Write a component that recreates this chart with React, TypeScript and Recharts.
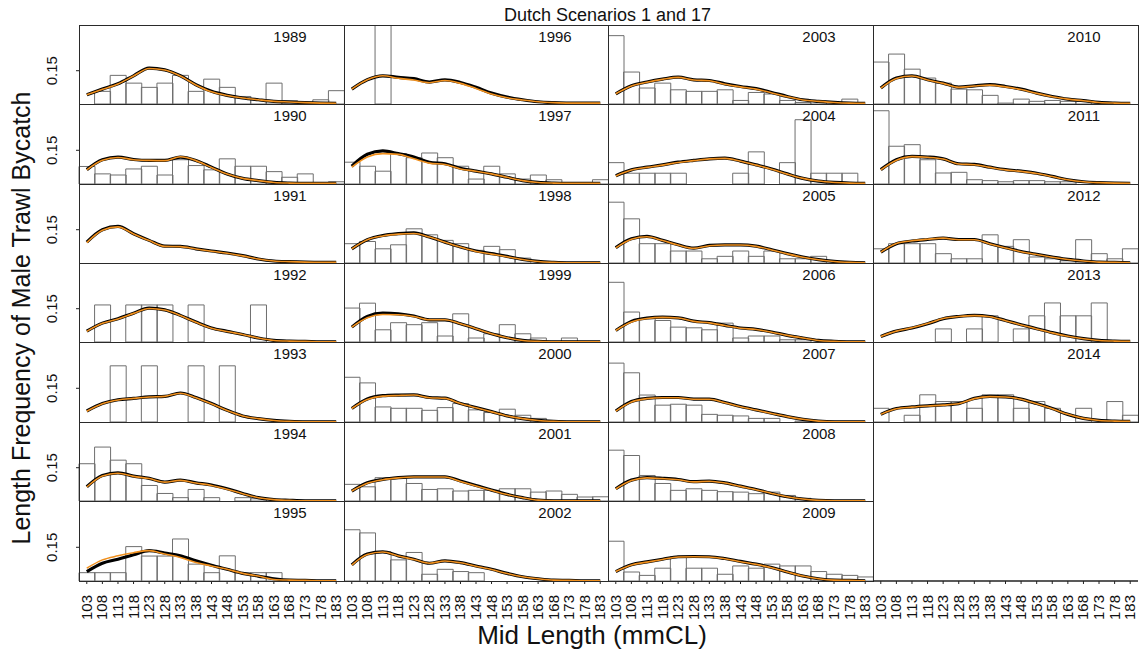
import { Bar, ComposedChart, Line, XAxis, YAxis } from "recharts"

const lengths = ["103", "108", "113", "118", "123", "128", "133", "138", "143", "148", "153", "158", "163", "168", "173", "178", "183"]

// observed proportions (bars) and the two scenario fits (black = scenario 1, orange = scenario 17)
const bars1989 = [0, 0.057, 0.129, 0.094, 0.075, 0.094, 0.129, 0.057, 0.112, 0.075, 0.034, 0.019, 0.094, 0.015, 0, 0.019, 0.06]
const black1989 = [0.042, 0.067, 0.091, 0.127, 0.162, 0.154, 0.127, 0.087, 0.057, 0.039, 0.027, 0.019, 0.012, 0.009, 0.006, 0.004, 0.003]
const orange1989 = [0.042, 0.066, 0.09, 0.126, 0.16, 0.153, 0.126, 0.086, 0.055, 0.038, 0.027, 0.019, 0.012, 0.009, 0.006, 0.004, 0.003]

const bars1990 = [0.078, 0.045, 0.04, 0.067, 0.079, 0.04, 0.108, 0.082, 0.063, 0.112, 0.079, 0.079, 0.055, 0.03, 0.045, 0, 0.01]
const black1990 = [0.064, 0.108, 0.12, 0.109, 0.105, 0.105, 0.12, 0.105, 0.075, 0.045, 0.025, 0.015, 0.007, 0.004, 0.003, 0.003, 0.003]
const orange1990 = [0.063, 0.106, 0.118, 0.108, 0.105, 0.104, 0.121, 0.104, 0.073, 0.044, 0.025, 0.015, 0.007, 0.004, 0.003, 0.003, 0.003]

const bars1991 = [0, 0, 0, 0, 0, 0, 0, 0, 0, 0, 0, 0, 0, 0, 0, 0, 0]
const black1991 = [0.094, 0.15, 0.165, 0.132, 0.102, 0.076, 0.075, 0.064, 0.054, 0.045, 0.033, 0.018, 0.009, 0.006, 0.004, 0.003, 0.003]
const orange1991 = [0.092, 0.148, 0.163, 0.131, 0.101, 0.075, 0.074, 0.063, 0.053, 0.044, 0.032, 0.018, 0.009, 0.006, 0.004, 0.003, 0.003]

const bars1992 = [0, 0.167, 0, 0.167, 0.167, 0.167, 0, 0.167, 0, 0, 0, 0.167, 0, 0, 0, 0, 0]
const black1992 = [0.049, 0.085, 0.105, 0.13, 0.153, 0.145, 0.12, 0.09, 0.063, 0.048, 0.034, 0.018, 0.007, 0.004, 0.003, 0.001, 0.001]
const orange1992 = [0.048, 0.084, 0.104, 0.129, 0.151, 0.144, 0.119, 0.089, 0.062, 0.047, 0.034, 0.018, 0.007, 0.004, 0.003, 0.001, 0.001]

const bars1993 = [0, 0, 0.25, 0, 0.25, 0, 0, 0.25, 0, 0.25, 0, 0, 0, 0, 0, 0, 0]
const black1993 = [0.049, 0.082, 0.099, 0.105, 0.112, 0.114, 0.129, 0.109, 0.082, 0.052, 0.027, 0.015, 0.007, 0.003, 0.001, 0.001, 0.001]
const orange1993 = [0.048, 0.081, 0.098, 0.105, 0.111, 0.114, 0.128, 0.108, 0.081, 0.051, 0.027, 0.015, 0.007, 0.003, 0.001, 0.001, 0.001]

const bars1994 = [0.168, 0.243, 0.184, 0.168, 0.07, 0.034, 0.015, 0.052, 0.015, 0, 0.015, 0.01, 0, 0, 0, 0, 0]
const black1994 = [0.064, 0.115, 0.127, 0.112, 0.102, 0.085, 0.094, 0.082, 0.072, 0.055, 0.034, 0.015, 0.006, 0.003, 0.001, 0.001, 0.001]
const orange1994 = [0.063, 0.113, 0.125, 0.111, 0.101, 0.085, 0.093, 0.081, 0.07, 0.053, 0.033, 0.015, 0.006, 0.003, 0.001, 0.001, 0.001]

const bars1995 = [0.037, 0.037, 0.037, 0.153, 0.111, 0.111, 0.187, 0.075, 0.037, 0.112, 0.037, 0.037, 0.037, 0, 0, 0, 0]
const black1995 = [0.042, 0.079, 0.097, 0.117, 0.135, 0.124, 0.112, 0.09, 0.07, 0.052, 0.034, 0.022, 0.01, 0.004, 0.003, 0.001, 0.001]
const orange1995 = [0.057, 0.094, 0.112, 0.126, 0.135, 0.12, 0.105, 0.082, 0.067, 0.052, 0.034, 0.022, 0.007, 0.004, 0.003, 0.001, 0.001]

const bars1996 = [0, 0, 1, 0, 0, 0, 0, 0, 0, 0, 0, 0, 0, 0, 0, 0, 0]
const black1996 = [0.067, 0.109, 0.127, 0.12, 0.114, 0.099, 0.109, 0.097, 0.075, 0.049, 0.031, 0.019, 0.01, 0.006, 0.004, 0.004, 0.004]
const orange1996 = [0.067, 0.109, 0.127, 0.116, 0.108, 0.096, 0.106, 0.093, 0.07, 0.045, 0.028, 0.018, 0.01, 0.006, 0.004, 0.004, 0.004]

const bars1997 = [0.097, 0.079, 0.057, 0.135, 0.117, 0.138, 0.117, 0.079, 0.022, 0.079, 0.045, 0.022, 0.04, 0.019, 0, 0, 0.019]
const black1997 = [0.079, 0.132, 0.147, 0.135, 0.12, 0.097, 0.09, 0.07, 0.057, 0.045, 0.03, 0.015, 0.007, 0.004, 0.003, 0.003, 0.003]
const orange1997 = [0.075, 0.12, 0.135, 0.132, 0.112, 0.093, 0.087, 0.067, 0.057, 0.045, 0.03, 0.015, 0.007, 0.004, 0.003, 0.003, 0.003]

const bars1998 = [0.087, 0.097, 0.064, 0.082, 0.154, 0.127, 0.102, 0.087, 0.057, 0.075, 0.06, 0.022, 0, 0, 0, 0, 0]
const black1998 = [0.064, 0.105, 0.124, 0.132, 0.136, 0.117, 0.094, 0.072, 0.054, 0.042, 0.03, 0.016, 0.007, 0.003, 0.001, 0.001, 0.001]
const orange1998 = [0.064, 0.105, 0.122, 0.13, 0.133, 0.117, 0.094, 0.072, 0.052, 0.04, 0.028, 0.016, 0.007, 0.003, 0.001, 0.001, 0.001]

const bars1999 = [0.153, 0.175, 0.055, 0.087, 0.078, 0.087, 0.027, 0.127, 0.018, 0.037, 0.078, 0.037, 0.018, 0, 0.018, 0, 0]
const black1999 = [0.067, 0.115, 0.13, 0.127, 0.117, 0.1, 0.1, 0.082, 0.06, 0.037, 0.019, 0.007, 0.003, 0.001, 0.001, 0.001, 0.001]
const orange1999 = [0.067, 0.109, 0.124, 0.123, 0.115, 0.1, 0.1, 0.082, 0.06, 0.037, 0.019, 0.007, 0.003, 0.001, 0.001, 0.001, 0.001]

const bars2000 = [0.199, 0.174, 0.067, 0.061, 0.061, 0.052, 0.064, 0.082, 0.054, 0.042, 0.057, 0.03, 0.016, 0, 0, 0, 0]
const black2000 = [0.06, 0.102, 0.117, 0.12, 0.121, 0.109, 0.106, 0.082, 0.064, 0.046, 0.027, 0.015, 0.007, 0.003, 0.001, 0.001, 0.001]
const orange2000 = [0.06, 0.1, 0.115, 0.118, 0.12, 0.108, 0.105, 0.082, 0.063, 0.045, 0.027, 0.015, 0.007, 0.003, 0.001, 0.001, 0.001]

const bars2001 = [0.075, 0.064, 0.105, 0.102, 0.079, 0.052, 0.055, 0.045, 0.048, 0.048, 0.055, 0.055, 0.04, 0.045, 0.03, 0.018, 0.019]
const black2001 = [0.045, 0.082, 0.097, 0.105, 0.109, 0.109, 0.109, 0.09, 0.07, 0.049, 0.03, 0.015, 0.004, 0.001, 0.001, 0.001, 0.001]
const orange2001 = [0.045, 0.08, 0.096, 0.104, 0.108, 0.108, 0.108, 0.088, 0.068, 0.048, 0.029, 0.015, 0.004, 0.001, 0.001, 0.001, 0.001]

const bars2002 = [0.228, 0.214, 0.13, 0.094, 0.127, 0.03, 0.052, 0.042, 0.037, 0, 0, 0, 0, 0, 0, 0, 0]
const black2002 = [0.072, 0.12, 0.13, 0.112, 0.097, 0.079, 0.09, 0.082, 0.067, 0.052, 0.034, 0.019, 0.01, 0.004, 0.003, 0.001, 0.001]
const orange2002 = [0.071, 0.118, 0.129, 0.111, 0.096, 0.079, 0.089, 0.081, 0.066, 0.051, 0.033, 0.019, 0.01, 0.004, 0.003, 0.001, 0.001]

const bars2003 = [0.308, 0.144, 0.072, 0.094, 0.064, 0.057, 0.057, 0.064, 0.016, 0.052, 0.045, 0.016, 0.007, 0.012, 0, 0.022, 0]
const black2003 = [0.046, 0.082, 0.099, 0.112, 0.121, 0.109, 0.106, 0.091, 0.079, 0.069, 0.052, 0.034, 0.019, 0.012, 0.007, 0.004, 0.003]
const orange2003 = [0.046, 0.081, 0.098, 0.111, 0.12, 0.108, 0.105, 0.089, 0.077, 0.067, 0.05, 0.033, 0.018, 0.012, 0.007, 0.004, 0.003]

const bars2004 = [0.095, 0.048, 0.048, 0.048, 0.048, 0, 0, 0, 0.048, 0.143, 0, 0.095, 0.286, 0.048, 0.048, 0.048, 0]
const black2004 = [0.037, 0.063, 0.075, 0.085, 0.097, 0.105, 0.112, 0.115, 0.102, 0.085, 0.067, 0.045, 0.025, 0.013, 0.007, 0.004, 0.003]
const orange2004 = [0.036, 0.062, 0.074, 0.084, 0.096, 0.104, 0.112, 0.114, 0.101, 0.084, 0.066, 0.044, 0.025, 0.013, 0.007, 0.004, 0.003]

const bars2005 = [0.274, 0.199, 0.087, 0.087, 0.054, 0.054, 0.019, 0.03, 0.054, 0.03, 0.054, 0.019, 0.019, 0.03, 0, 0, 0]
const black2005 = [0.069, 0.109, 0.12, 0.102, 0.082, 0.067, 0.079, 0.082, 0.082, 0.076, 0.06, 0.042, 0.027, 0.015, 0.007, 0.003, 0.001]
const orange2005 = [0.068, 0.107, 0.118, 0.101, 0.081, 0.066, 0.078, 0.081, 0.081, 0.075, 0.059, 0.041, 0.026, 0.015, 0.007, 0.003, 0.001]

const bars2006 = [0.269, 0.135, 0.105, 0.097, 0.067, 0.064, 0.055, 0.085, 0.018, 0.027, 0.027, 0.01, 0.01, 0, 0, 0, 0]
const black2006 = [0.052, 0.093, 0.108, 0.112, 0.109, 0.094, 0.087, 0.075, 0.063, 0.057, 0.045, 0.03, 0.018, 0.007, 0.003, 0.001, 0.001]
const orange2006 = [0.052, 0.09, 0.106, 0.111, 0.108, 0.093, 0.086, 0.074, 0.062, 0.056, 0.044, 0.03, 0.018, 0.007, 0.003, 0.001, 0.001]

const bars2007 = [0.262, 0.219, 0.12, 0.075, 0.079, 0.075, 0.034, 0.03, 0.027, 0.016, 0.016, 0, 0.004, 0, 0, 0, 0]
const black2007 = [0.049, 0.091, 0.105, 0.109, 0.109, 0.102, 0.102, 0.087, 0.069, 0.054, 0.039, 0.024, 0.012, 0.004, 0.001, 0.001, 0.001]
const orange2007 = [0.048, 0.089, 0.104, 0.108, 0.108, 0.101, 0.101, 0.086, 0.068, 0.053, 0.038, 0.024, 0.012, 0.004, 0.001, 0.001, 0.001]

const bars2008 = [0.229, 0.205, 0.115, 0.079, 0.048, 0.055, 0.048, 0.042, 0.04, 0.033, 0.04, 0.025, 0.012, 0, 0, 0, 0]
const black2008 = [0.055, 0.094, 0.105, 0.102, 0.097, 0.087, 0.09, 0.082, 0.067, 0.052, 0.034, 0.019, 0.009, 0.003, 0.001, 0.001, 0.001]
const orange2008 = [0.054, 0.092, 0.104, 0.101, 0.096, 0.086, 0.089, 0.081, 0.066, 0.051, 0.034, 0.019, 0.009, 0.003, 0.001, 0.001, 0.001]

const bars2009 = [0.177, 0.04, 0.025, 0.057, 0.108, 0.057, 0.057, 0.03, 0.067, 0.057, 0.075, 0.067, 0.067, 0.042, 0.03, 0.025, 0.018]
const black2009 = [0.042, 0.072, 0.085, 0.097, 0.108, 0.109, 0.108, 0.1, 0.087, 0.075, 0.06, 0.04, 0.022, 0.01, 0.004, 0.003, 0.001]
const orange2009 = [0.042, 0.071, 0.084, 0.096, 0.107, 0.108, 0.107, 0.099, 0.086, 0.074, 0.059, 0.04, 0.022, 0.01, 0.004, 0.003, 0.001]

const bars2010 = [0.189, 0.225, 0.157, 0.117, 0.094, 0.067, 0.064, 0.039, 0.004, 0.022, 0.012, 0.016, 0.012, 0.012, 0, 0, 0]
const black2010 = [0.072, 0.117, 0.127, 0.109, 0.094, 0.076, 0.082, 0.087, 0.079, 0.067, 0.049, 0.034, 0.022, 0.015, 0.007, 0.004, 0.003]
const orange2010 = [0.071, 0.115, 0.126, 0.108, 0.093, 0.075, 0.081, 0.085, 0.077, 0.065, 0.048, 0.033, 0.022, 0.015, 0.007, 0.004, 0.003]

const bars2011 = [0.326, 0.168, 0.175, 0.108, 0.049, 0.052, 0.019, 0.015, 0.01, 0.015, 0.015, 0.01, 0.01, 0, 0, 0, 0]
const black2011 = [0.064, 0.108, 0.123, 0.12, 0.112, 0.09, 0.087, 0.075, 0.064, 0.057, 0.048, 0.034, 0.019, 0.01, 0.006, 0.004, 0.003]
const orange2011 = [0.063, 0.106, 0.122, 0.119, 0.111, 0.089, 0.086, 0.074, 0.063, 0.056, 0.047, 0.033, 0.019, 0.01, 0.006, 0.004, 0.003]

const bars2012 = [0.064, 0.087, 0.087, 0.087, 0.042, 0.019, 0.019, 0.127, 0.075, 0.105, 0.027, 0.019, 0.01, 0.105, 0.042, 0.019, 0.064]
const black2012 = [0.049, 0.087, 0.099, 0.106, 0.112, 0.106, 0.106, 0.087, 0.069, 0.052, 0.039, 0.027, 0.016, 0.009, 0.004, 0.003, 0.001]
const orange2012 = [0.049, 0.088, 0.1, 0.107, 0.112, 0.105, 0.105, 0.086, 0.068, 0.051, 0.038, 0.026, 0.016, 0.009, 0.004, 0.003, 0.001]

const bars2013 = [0, 0, 0, 0, 0.059, 0, 0.059, 0.118, 0, 0.059, 0.118, 0.176, 0.118, 0.118, 0.176, 0, 0]
const black2013 = [0.025, 0.049, 0.063, 0.082, 0.105, 0.115, 0.12, 0.115, 0.097, 0.078, 0.06, 0.042, 0.027, 0.015, 0.007, 0.004, 0.003]
const orange2013 = [0.025, 0.049, 0.064, 0.083, 0.106, 0.115, 0.119, 0.114, 0.096, 0.077, 0.059, 0.041, 0.026, 0.015, 0.007, 0.004, 0.003]

const bars2014 = [0.061, 0, 0.03, 0.121, 0.091, 0.091, 0.061, 0.121, 0.121, 0.061, 0.091, 0.061, 0, 0.061, 0, 0.091, 0.03]
const black2014 = [0.034, 0.06, 0.067, 0.072, 0.076, 0.082, 0.105, 0.114, 0.112, 0.102, 0.082, 0.06, 0.034, 0.016, 0.007, 0.004, 0.003]
const orange2014 = [0.034, 0.059, 0.066, 0.071, 0.075, 0.081, 0.104, 0.113, 0.111, 0.101, 0.081, 0.059, 0.034, 0.016, 0.007, 0.004, 0.003]

const panels = [
  { year: "1989", bars: bars1989, black: black1989, orange: orange1989 },
  { year: "1990", bars: bars1990, black: black1990, orange: orange1990 },
  { year: "1991", bars: bars1991, black: black1991, orange: orange1991 },
  { year: "1992", bars: bars1992, black: black1992, orange: orange1992 },
  { year: "1993", bars: bars1993, black: black1993, orange: orange1993 },
  { year: "1994", bars: bars1994, black: black1994, orange: orange1994 },
  { year: "1995", bars: bars1995, black: black1995, orange: orange1995 },
  { year: "1996", bars: bars1996, black: black1996, orange: orange1996 },
  { year: "1997", bars: bars1997, black: black1997, orange: orange1997 },
  { year: "1998", bars: bars1998, black: black1998, orange: orange1998 },
  { year: "1999", bars: bars1999, black: black1999, orange: orange1999 },
  { year: "2000", bars: bars2000, black: black2000, orange: orange2000 },
  { year: "2001", bars: bars2001, black: black2001, orange: orange2001 },
  { year: "2002", bars: bars2002, black: black2002, orange: orange2002 },
  { year: "2003", bars: bars2003, black: black2003, orange: orange2003 },
  { year: "2004", bars: bars2004, black: black2004, orange: orange2004 },
  { year: "2005", bars: bars2005, black: black2005, orange: orange2005 },
  { year: "2006", bars: bars2006, black: black2006, orange: orange2006 },
  { year: "2007", bars: bars2007, black: black2007, orange: orange2007 },
  { year: "2008", bars: bars2008, black: black2008, orange: orange2008 },
  { year: "2009", bars: bars2009, black: black2009, orange: orange2009 },
  { year: "2010", bars: bars2010, black: black2010, orange: orange2010 },
  { year: "2011", bars: bars2011, black: black2011, orange: orange2011 },
  { year: "2012", bars: bars2012, black: black2012, orange: orange2012 },
  { year: "2013", bars: bars2013, black: black2013, orange: orange2013 },
  { year: "2014", bars: bars2014, black: black2014, orange: orange2014 },
]

const FONT = "'Liberation Sans', Arial, Helvetica, sans-serif"
const Y_MAX = 0.356
const AXIS_W = 50
const AXIS_H = 52
const ROWS = 7

const colEdge = (c: number) => Math.round(79.3 + c * 264.55)
const rowEdge = (r: number) => Math.round(25 + r * 79.36)

function XTick({ x, y, payload }: any) {
  const tx = x + 5
  return (
    <text x={tx} y={y} transform={`rotate(-90 ${tx} ${y})`} textAnchor="end" fontSize={15} fontFamily={FONT} fill="#111">
      {payload.value}
    </text>
  )
}

function YTick({ x, y, payload }: any) {
  return (
    <text x={x} y={y} transform={`rotate(-90 ${x} ${y})`} textAnchor="middle" fontSize={15} fontFamily={FONT} fill="#111">
      {payload.value}
    </text>
  )
}

function Panel({ index }: { index: number }) {
  const p = panels[index]
  const col = Math.floor(index / ROWS)
  const row = index % ROWS
  const left = colEdge(col)
  const top = rowEdge(row)
  const w = colEdge(col + 1) - left
  const h = rowEdge(row + 1) - top
  const showY = col === 0
  const showX = row === ROWS - 1
  const data = lengths.map((len, i) => ({ len, bar: p.bars[i], black: p.black[i], orange: p.orange[i] }))

  return (
    <>
      <div style={{ position: "absolute", left: left - (showY ? AXIS_W : 0), top }}>
        <ComposedChart
          width={w + (showY ? AXIS_W : 0)}
          height={h + (showX ? AXIS_H : 0)}
          data={data}
          margin={{ top: 0, right: 0, bottom: 0, left: 0 }}
          barCategoryGap={0}
          barGap={0}
        >
          <XAxis
            dataKey="len"
            hide={!showX}
            height={AXIS_H}
            interval={0}
            axisLine={false}
            tickSize={3}
            tickMargin={11}
            tickLine={{ stroke: "#222" }}
            tick={<XTick />}
          />
          <YAxis
            type="number"
            domain={[0, Y_MAX]}
            allowDataOverflow
            hide={!showY}
            width={AXIS_W}
            ticks={[0.15]}
            axisLine={false}
            tickSize={3}
            tickMargin={19}
            tickLine={{ stroke: "#222" }}
            tick={<YTick />}
          />
          <Bar dataKey="bar" fill="none" stroke="#6e6e6e" strokeWidth={1} isAnimationActive={false} />
          <Line type="monotone" dataKey="black" stroke="#000" strokeWidth={3.2} dot={false} isAnimationActive={false} />
          <Line type="monotone" dataKey="orange" stroke="#f0901e" strokeWidth={1.6} dot={false} isAnimationActive={false} />
        </ComposedChart>
      </div>
      <div
        style={{
          position: "absolute",
          left,
          top,
          width: w + 1,
          height: h + 1,
          border: "1px solid #2a2a2a",
          boxSizing: "border-box",
          pointerEvents: "none",
        }}
      />
    </>
  )
}

function EmptyAxis() {
  const col = 3
  const row = ROWS - 1
  const left = colEdge(col)
  const top = rowEdge(row)
  const w = colEdge(col + 1) - left
  const h = rowEdge(row + 1) - top
  const data = lengths.map((len) => ({ len }))
  return (
    <div style={{ position: "absolute", left, top }}>
      <ComposedChart width={w} height={h + AXIS_H} data={data} margin={{ top: 0, right: 0, bottom: 0, left: 0 }}>
        <XAxis
          dataKey="len"
          scale="band"
          height={AXIS_H}
          interval={0}
          axisLine={{ stroke: "#222", strokeWidth: 1.5 }}
          tickSize={3}
          tickMargin={11}
          tickLine={{ stroke: "#222" }}
          tick={<XTick />}
        />
        <YAxis type="number" domain={[0, Y_MAX]} hide />
      </ComposedChart>
    </div>
  )
}

export default function App() {
  return (
    <div style={{ position: "absolute", left: 0, top: 0, width: 1140, height: 651, background: "#fff", overflow: "hidden" }}>
      {panels.map((p, i) => (
        <Panel key={p.year} index={i} />
      ))}
      <EmptyAxis />
      <svg width={1140} height={651} style={{ position: "absolute", left: 0, top: 0, pointerEvents: "none" }}>
        <text x={607.5} y={20.7} textAnchor="middle" fontSize={18} fontFamily={FONT} fill="#111">
          Dutch Scenarios 1 and 17
        </text>
        {panels.map((p, i) => (
          <text
            key={p.year}
            x={colEdge(Math.floor(i / ROWS)) + 211}
            y={rowEdge(i % ROWS) + 16.7}
            textAnchor="middle"
            fontSize={15}
            fontFamily={FONT}
            fill="#111"
          >
            {p.year}
          </text>
        ))}
        <text x={29.5} y={318} transform="rotate(-90 29.5 318)" textAnchor="middle" fontSize={25} fontFamily={FONT} fill="#111">
          Length Frequency of Male Trawl Bycatch
        </text>
        <text x={592} y={644} textAnchor="middle" fontSize={26} fontFamily={FONT} fill="#111">
          Mid Length (mmCL)
        </text>
      </svg>
    </div>
  )
}
